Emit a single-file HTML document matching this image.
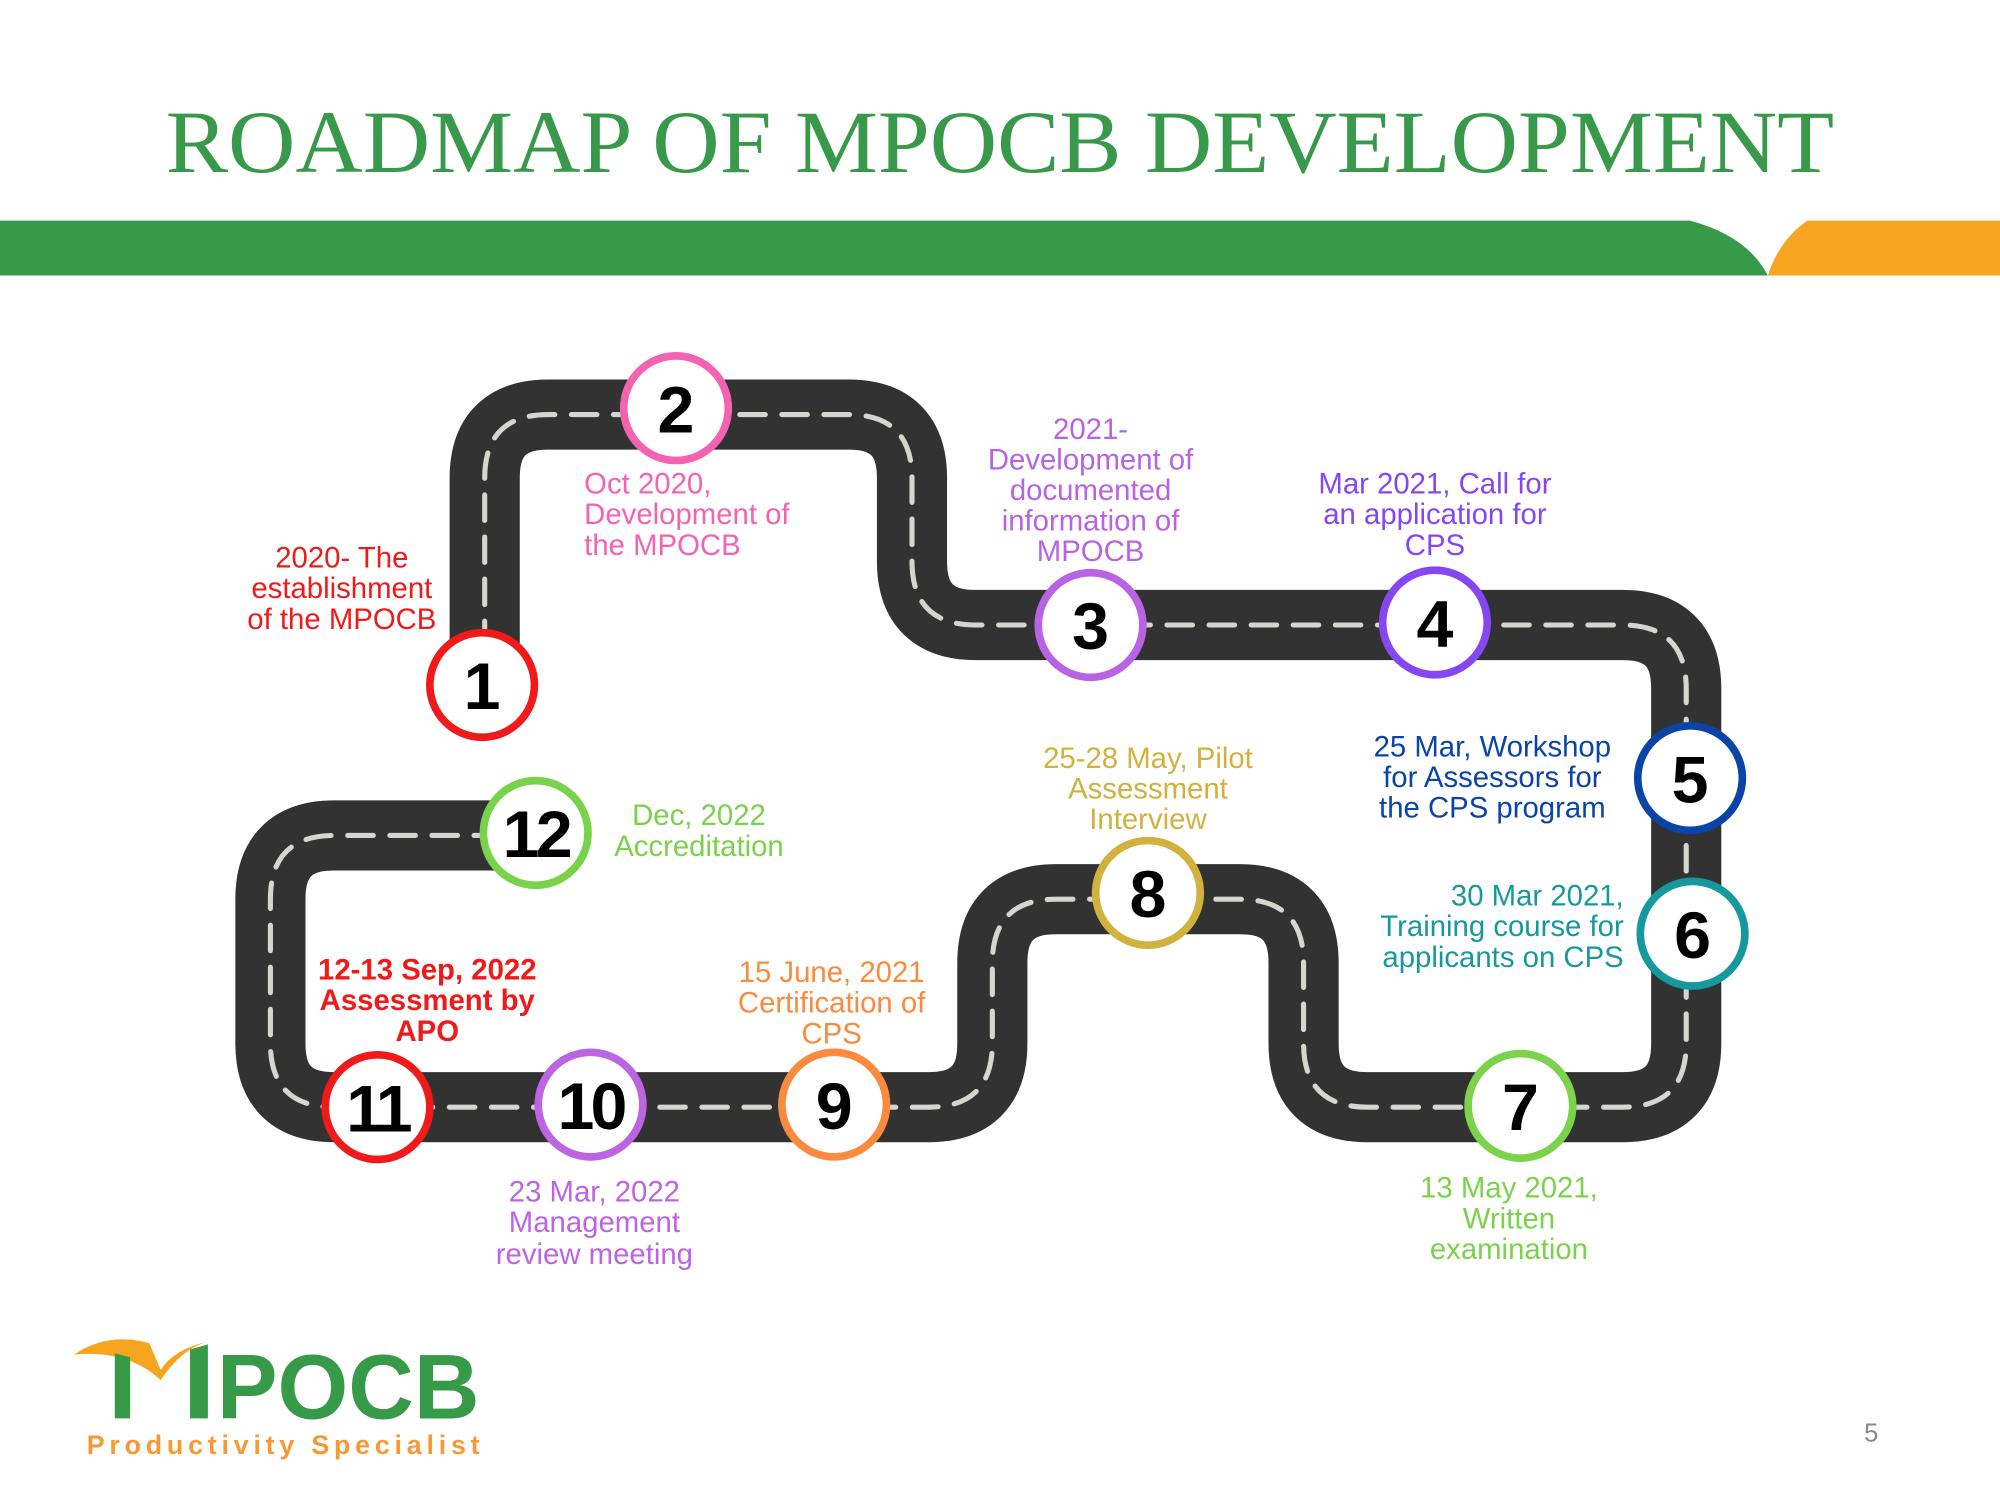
<!DOCTYPE html>
<html><head><meta charset="utf-8"><style>
html,body{margin:0;padding:0;background:#fff;}
svg{display:block}
text{font-family:"Liberation Sans","DejaVu Sans",sans-serif;}
</style></head><body>
<svg width="2000" height="1500" viewBox="0 0 1568 1176" xmlns="http://www.w3.org/2000/svg">
<rect width="1568" height="1176" fill="#fff"/>
<text x="130" y="135" style="font-family:'Liberation Serif',serif" font-size="70" fill="#38994a" textLength="1308" lengthAdjust="spacingAndGlyphs">ROADMAP OF MPOCB DEVELOPMENT</text>
<path d="M0 173 H1325 Q1370 185 1386 216 H0 Z" fill="#379a48"/>
<path d="M1417 173 H1568 V216 H1386 Q1395 188 1417 173 Z" fill="#f7a520"/>
<g fill="none" stroke-linejoin="round">
<path d="M380 540 V375 Q380 325 430 325 H665 Q715 325 715 375 V440 Q715 490 765 490 H1272 Q1322 490 1322 540 V818 Q1322 868 1272 868 H1072 Q1022 868 1022 818 V755 Q1022 705 972 705 H828 Q778 705 778 755 V818 Q778 868 728 868 H262 Q212 868 212 818 V705 Q212 655 262 655 H420" stroke="#323232" stroke-width="55"/>
<path d="M380 540 V375 Q380 325 430 325 H665 Q715 325 715 375 V440 Q715 490 765 490 H1272 Q1322 490 1322 540 V818 Q1322 868 1272 868 H1072 Q1022 868 1022 818 V755 Q1022 705 972 705 H828 Q778 705 778 755 V818 Q778 868 728 868 H262 Q212 868 212 818 V705 Q212 655 262 655 H420" stroke="#d3d7cf" stroke-width="4" stroke-dasharray="20 13" stroke-linecap="round"/>
</g>
<rect x="150" y="640" width="34" height="260" fill="#fff"/>
<g stroke-width="6" fill="#fff">
<circle cx="378" cy="537" r="41" stroke="#f01a1a"/>
<circle cx="530" cy="320" r="41" stroke="#f462b2"/>
<circle cx="855" cy="490" r="41" stroke="#b863e3"/>
<circle cx="1125" cy="488" r="41" stroke="#8646f2"/>
<circle cx="1325" cy="610" r="41" stroke="#0a44a6"/>
<circle cx="1327" cy="732" r="41" stroke="#16999d"/>
<circle cx="1192" cy="867" r="41" stroke="#7bd24b"/>
<circle cx="900" cy="700" r="41" stroke="#d0b23c"/>
<circle cx="654" cy="866" r="41" stroke="#fa8b3e"/>
<circle cx="463" cy="866" r="41" stroke="#bd64e3"/>
<circle cx="296" cy="868" r="41" stroke="#f01a1a"/>
<circle cx="420" cy="653" r="41" stroke="#79d34a"/>
</g>
<g font-size="52" font-weight="600" fill="#000" text-anchor="middle">
<text x="378" y="556">1</text><text x="530" y="339">2</text><text x="855" y="509">3</text>
<text x="1125" y="507">4</text><text x="1325" y="629">5</text><text x="1327" y="751">6</text>
<text x="1192" y="886">7</text><text x="900" y="719">8</text><text x="654" y="885">9</text>
<text x="463" y="885" letter-spacing="-3">10</text><text x="296" y="887" letter-spacing="-3">11</text><text x="420" y="672" letter-spacing="-3">12</text>
</g>
<g font-size="23">
<g fill="#f01a1a" text-anchor="middle"><text x="268" y="445">2020- The</text><text x="268" y="469">establishment</text><text x="268" y="493">of the MPOCB</text></g>
<g fill="#f462b2"><text x="458" y="387">Oct 2020,</text><text x="458" y="411">Development of</text><text x="458" y="435">the MPOCB</text></g>
<g fill="#b863e3" text-anchor="middle"><text x="855" y="344">2021-</text><text x="855" y="368">Development of</text><text x="855" y="392">documented</text><text x="855" y="416">information of</text><text x="855" y="440">MPOCB</text></g>
<g fill="#8646f2" text-anchor="middle"><text x="1125" y="387">Mar 2021, Call for</text><text x="1125" y="411">an application for</text><text x="1125" y="435">CPS</text></g>
<g fill="#0a44a6" text-anchor="middle"><text x="1170" y="593">25 Mar, Workshop</text><text x="1170" y="617">for Assessors for</text><text x="1170" y="641">the CPS program</text></g>
<g fill="#16999d" text-anchor="end"><text x="1273" y="710">30 Mar 2021,</text><text x="1273" y="734">Training course for</text><text x="1273" y="758">applicants on CPS</text></g>
<g fill="#7bd24b" text-anchor="middle"><text x="1183" y="939">13 May 2021,</text><text x="1183" y="963">Written</text><text x="1183" y="987">examination</text></g>
<g fill="#d0b23c" text-anchor="middle"><text x="900" y="602">25-28  May, Pilot</text><text x="900" y="626">Assessment</text><text x="900" y="650">Interview</text></g>
<g fill="#fa8b3e" text-anchor="middle"><text x="652" y="770">15 June, 2021</text><text x="652" y="794">Certification of</text><text x="652" y="818">CPS</text></g>
<g fill="#bd64e3" text-anchor="middle"><text x="466" y="942">23 Mar, 2022</text><text x="466" y="966">Management</text><text x="466" y="991">review meeting</text></g>
<g fill="#f01a1a" text-anchor="middle" font-weight="bold"><text x="335" y="768">12-13 Sep, 2022</text><text x="335" y="792">Assessment by</text><text x="335" y="816">APO</text></g>
<g fill="#79d34a" text-anchor="middle"><text x="548" y="647">Dec, 2022</text><text x="548" y="671">Accreditation</text></g>
</g>
<path d="M58 1062 Q85 1044 117 1053 L126 1074 Q136 1058 162 1052 Q142 1058 126 1082 Q100 1058 58 1062 Z" fill="#f6a51f"/>
<path d="M90 1061 L102 1064 L102 1112 L90 1112 Z" fill="#379a48"/>
<path d="M149 1058 L163 1054 L163 1112 L149 1112 Z" fill="#379a48"/>
<text x="170" y="1112" font-size="72" font-weight="bold" fill="#379a48" textLength="206" lengthAdjust="spacingAndGlyphs">POCB</text>
<text x="68" y="1140" font-size="21" font-weight="bold" fill="#f79a35" textLength="308" lengthAdjust="spacing">Productivity Specialist</text>
<text x="1467" y="1130" font-size="20" fill="#888" text-anchor="middle">5</text>
</svg>
</body></html>
